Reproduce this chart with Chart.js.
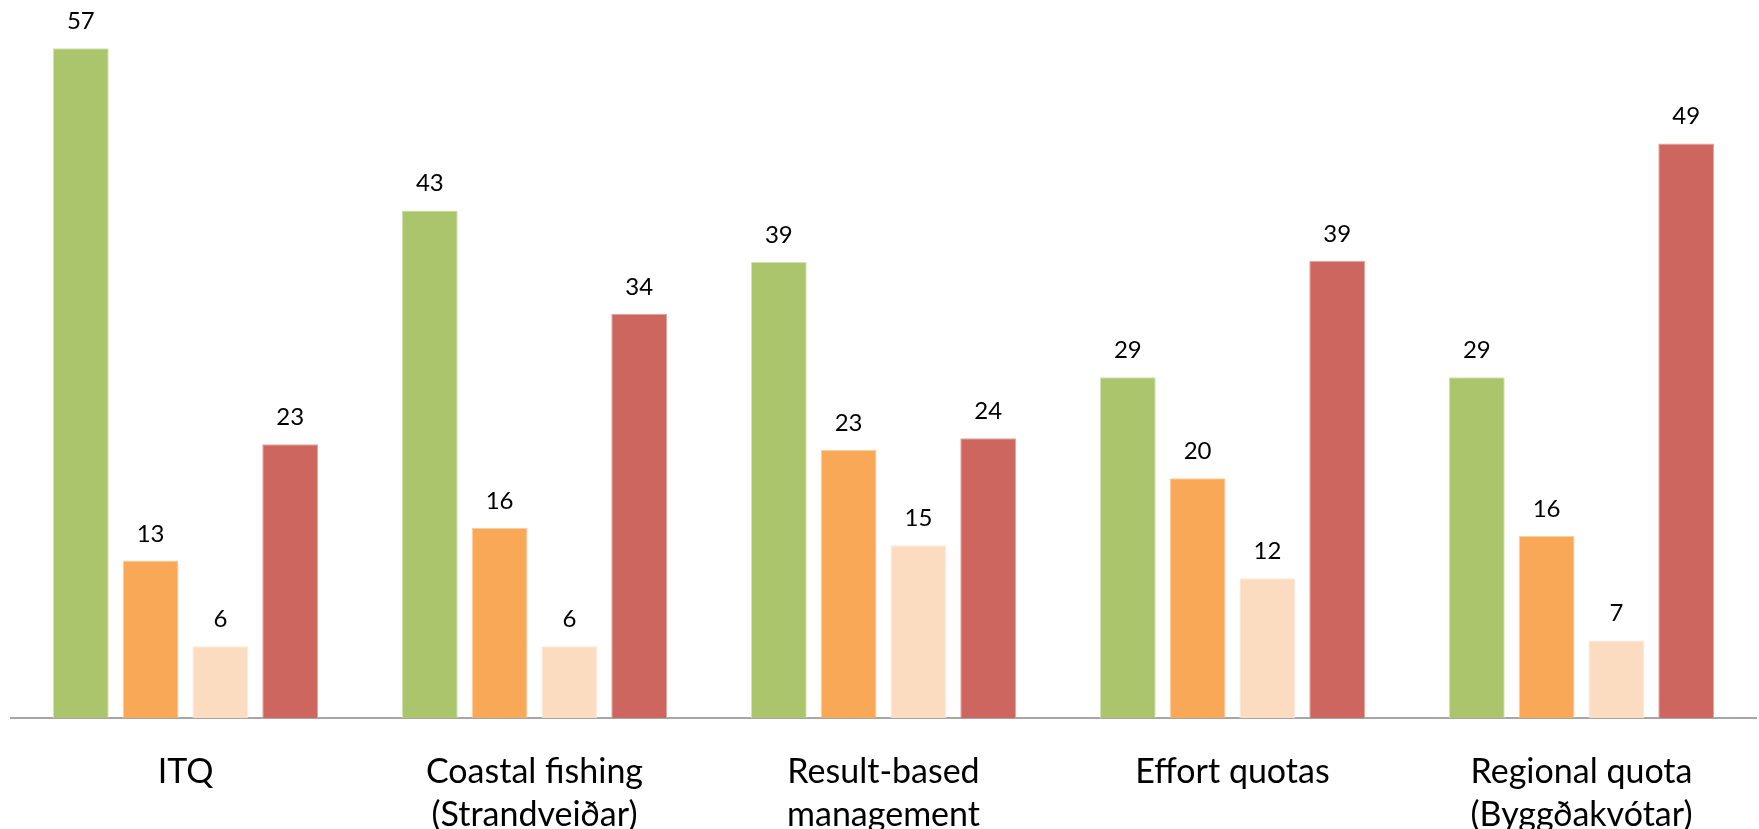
<!DOCTYPE html>
<html>
<head>
<meta charset="utf-8">
<script src="https://cdn.jsdelivr.net/npm/chart.js@4/dist/chart.umd.min.js"></script>
<style>
  html, body { margin: 0; padding: 0; background: #fff; overflow: hidden; }
  #wrap { width: 1759px; height: 829px; }
</style>
</head>
<body>
<div id="wrap"><canvas id="fishChart"></canvas></div>
<script>
// Categories and values (labels show whole numbers)
var categories = [
  ["ITQ"],
  ["Coastal fishing", "(Strandveiðar)"],
  ["Result-based", "management"],
  ["Effort quotas"],
  ["Regional quota", "(Byggðakvótar)"]
];
var seriesNames = ["Series 1", "Series 2", "Series 3", "Series 4"];
var series1 = [57.0, 43.2, 38.8, 29.0, 29.0];
var series2 = [13.4, 16.2, 22.8, 20.4, 15.5];
var series3 = [6.1, 6.1, 14.7, 11.9, 6.6];
var series4 = [23.3, 34.4, 23.8, 38.9, 48.9];
var yMax = 60;

var fills = ["#abc56d", "#f9a857", "#fcdcc1", "#cd665f"];
var edges = ["#d3e2b4", "#fccea0", "#fdeadb", "#e3a29d"];

// Etiquetas de valor encima de cada barra
var valueLabels = {
  id: "valueLabels",
  afterDatasetsDraw: function (chart) {
    var ctx = chart.ctx;
    ctx.save();
    ctx.font = "24px Lato";
    ctx.fillStyle = "#000";
    ctx.textAlign = "center";
    ctx.textBaseline = "alphabetic";
    chart.data.datasets.forEach(function (ds, i) {
      chart.getDatasetMeta(i).data.forEach(function (bar, j) {
        ctx.fillText(Math.round(ds.data[j]), bar.x, bar.y - 19);
      });
    });
    ctx.restore();
  }
};

var allSeries = [series1, series2, series3, series4];

var fishChart = new Chart(document.getElementById("fishChart").getContext("2d"), {
  type: "bar",
  data: {
    labels: categories,
    datasets: allSeries.map(function (vals, i) {
      return {
        label: seriesNames[i],
        data: vals,
        backgroundColor: fills[i],
        borderColor: edges[i],
        borderWidth: 1,
        categoryPercentage: 0.8,
        barPercentage: 0.8
      };
    })
  },
  options: {
    responsive: true,
    maintainAspectRatio: false,
    animation: false,
    layout: { padding: { left: 11, right: 3, top: 13, bottom: 0 } },
    plugins: {
      legend: { display: false },
      tooltip: { enabled: false }
    },
    scales: {
      x: {
        grid: { display: false, drawTicks: false },
        border: { display: true, color: "#a6a6a6", width: 2 },
        ticks: {
          color: "#000",
          font: { family: "Lato", size: 34, lineHeight: 1.28 },
          padding: 32,
          maxRotation: 0,
          autoSkip: false
        },
        afterFit: function (scale) { scale.height = 111; }
      },
      y: {
        display: false,
        min: 0,
        max: yMax
      }
    }
  },
  plugins: [valueLabels]
});
</script>
</body>
</html>
